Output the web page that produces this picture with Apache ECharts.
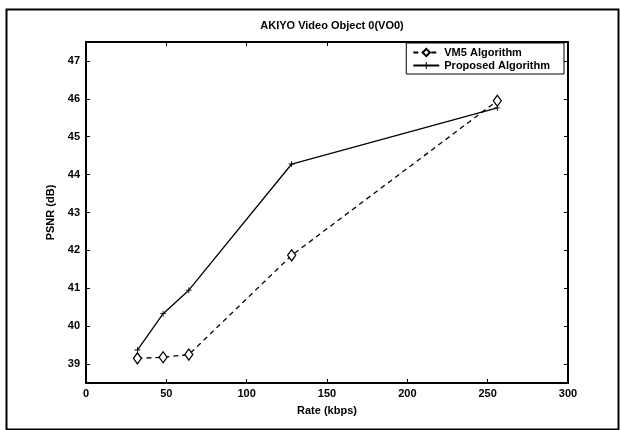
<!DOCTYPE html>
<html>
<head>
<meta charset="utf-8">
<script src="https://cdn.jsdelivr.net/npm/echarts@6/dist/echarts.min.js"></script>
<style>
html,body{margin:0;padding:0;background:#fff;}
#c{width:620px;height:430px;}
</style>
</head>
<body>
<div id="c"></div>
<script>
const titleText = 'AKIYO Video Object 0(VO0)';
const xName = 'Rate (kbps)';
const yName = 'PSNR (dB)';
const rates = [32, 48, 64, 128, 256];
const vm5 = [39.15, 39.18, 39.25, 41.87, 45.95];
const proposed = [39.37, 40.33, 40.95, 44.28, 45.76];
const seriesNames = ['VM5 Algorithm', 'Proposed Algorithm'];
const yTicks = [39, 40, 41, 42, 43, 44, 45, 46, 47];
const xTicks = [0, 50, 100, 150, 200, 250, 300];

const FONT = '"Liberation Sans", Arial, sans-serif';
const chart = echarts.init(document.getElementById('c'), null, {renderer: 'canvas'});
const plus = 'path://M4.3,0h1.4v10h-1.4zM0,4.3h10v1.4h-10z';

const axisLineStyle = {lineStyle: {color: '#000', width: 2}};
const labelStyle = {color: '#000', fontFamily: FONT, fontWeight: 'bold', fontSize: 11};

chart.setOption({
  backgroundColor: '#fff',
  animation: false,
  title: {
    text: titleText, left: 327, top: 15, textAlign: 'center',
    textStyle: {fontFamily: FONT, fontWeight: 'bold', fontSize: 11, color: '#000'}
  },
  grid: {left: 86, right: 52, top: 42, bottom: 47, show: false},
  legend: {
    right: 56, top: 43, orient: 'vertical',
    backgroundColor: '#fff', borderColor: '#000', borderWidth: 1,
    padding: [4, 14, 3, 6], itemGap: 2, itemWidth: 26, itemHeight: 9,
    textStyle: {fontFamily: FONT, fontWeight: 'bold', fontSize: 11, color: '#000'},
    data: seriesNames
  },
  xAxis: [{
    type: 'value', min: xTicks[0], max: xTicks[xTicks.length - 1], interval: 50,
    name: xName, nameLocation: 'middle', nameGap: 22,
    nameTextStyle: labelStyle,
    axisLine: {show: true, onZero: false, ...axisLineStyle},
    axisTick: {show: true, inside: true, length: 4, lineStyle: {color: '#000', width: 1}},
    axisLabel: {...labelStyle, margin: 5},
    splitLine: {show: false}
  }, {
    type: 'value', position: 'top', min: xTicks[0], max: xTicks[xTicks.length - 1], interval: 50,
    axisLine: {show: true, onZero: false, ...axisLineStyle},
    axisTick: {show: true, inside: true, length: 4, lineStyle: {color: '#000', width: 1}},
    axisLabel: {show: false}, splitLine: {show: false}
  }],
  yAxis: [{
    type: 'value', min: 38.5, max: 47.5,
    name: yName, nameLocation: 'middle', nameGap: 30,
    nameTextStyle: labelStyle,
    axisLine: {show: true, onZero: false, ...axisLineStyle},
    axisTick: {show: true, inside: true, length: 4, customValues: yTicks, lineStyle: {color: '#000', width: 1}},
    axisLabel: {...labelStyle, margin: 6, customValues: yTicks},
    splitLine: {show: false}
  }, {
    type: 'value', position: 'right', min: 38.5, max: 47.5,
    axisLine: {show: true, onZero: false, ...axisLineStyle},
    axisTick: {show: true, inside: true, length: 4, customValues: yTicks, lineStyle: {color: '#000', width: 1}},
    axisLabel: {show: false, customValues: yTicks}, splitLine: {show: false}
  }],
  series: [{
    name: seriesNames[0], type: 'line',
    data: rates.map((r, i) => [r, vm5[i]]),
    symbol: 'diamond', symbolSize: [8, 11], showSymbol: true,
    lineStyle: {color: '#000', width: 1.3, type: [5, 4]},
    itemStyle: {color: '#fff', borderColor: '#000', borderWidth: 1.3}
  }, {
    name: seriesNames[1], type: 'line',
    data: rates.map((r, i) => [r, proposed[i]]),
    symbol: plus, symbolSize: 6, showSymbol: true,
    lineStyle: {color: '#000', width: 1.3},
    itemStyle: {color: '#000'}
  }],
  graphic: [{
    type: 'rect', left: 4, top: 7, z: -10,
    shape: {width: 612, height: 420},
    style: {fill: 'none', stroke: '#000', lineWidth: 2}
  }]
});
</script>
</body>
</html>
